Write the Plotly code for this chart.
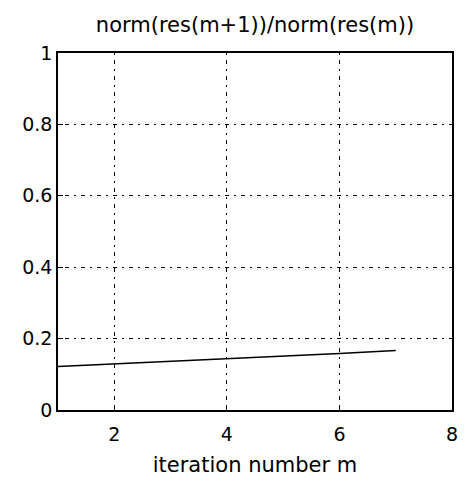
import plotly.graph_objects as go

iterations = [1, 2, 3, 4, 5, 6, 7]
ratio = [0.122, 0.129, 0.136, 0.143, 0.150, 0.158, 0.167]
x_ticks = [2, 4, 6, 8]
y_ticks = [0, 0.2, 0.4, 0.6, 0.8, 1]
y_tick_labels = ["0", "0.2", "0.4", "0.6", "0.8", "1"]

FONT = "DejaVu Sans, Liberation Sans, Arial"

fig = go.Figure()
fig.add_trace(go.Scatter(x=iterations, y=ratio, mode="lines",
                         line=dict(color="black", width=1.5), showlegend=False))

axis_common = dict(
    showline=True, linecolor="black", linewidth=1.5, mirror=True,
    showgrid=True, gridcolor="black", gridwidth=1, griddash="2px,5px,4px,5px",
    ticks="inside", ticklen=5, tickcolor="black", zeroline=False,
    tickfont=dict(family=FONT, size=19, color="black"),
)

fig.update_layout(
    width=466, height=485,
    margin=dict(l=58, r=8, t=53, b=75),
    paper_bgcolor="white", plot_bgcolor="white",
    title=dict(text="norm(res(m+1))/norm(res(m))", x=0.5, xanchor="center",
               xref="paper", y=1 - 25/485, yanchor="middle",
               font=dict(family=FONT, size=21, color="black")),
    xaxis=dict(range=[1, 8], tickvals=x_ticks, ticklabelstandoff=6,
               title=dict(text="iteration number m", standoff=14,
                          font=dict(family=FONT, size=21, color="black")),
               **axis_common),
    yaxis=dict(range=[0, 1], tickvals=y_ticks, ticktext=y_tick_labels, **axis_common),
)

fig.write_html("out.html")
